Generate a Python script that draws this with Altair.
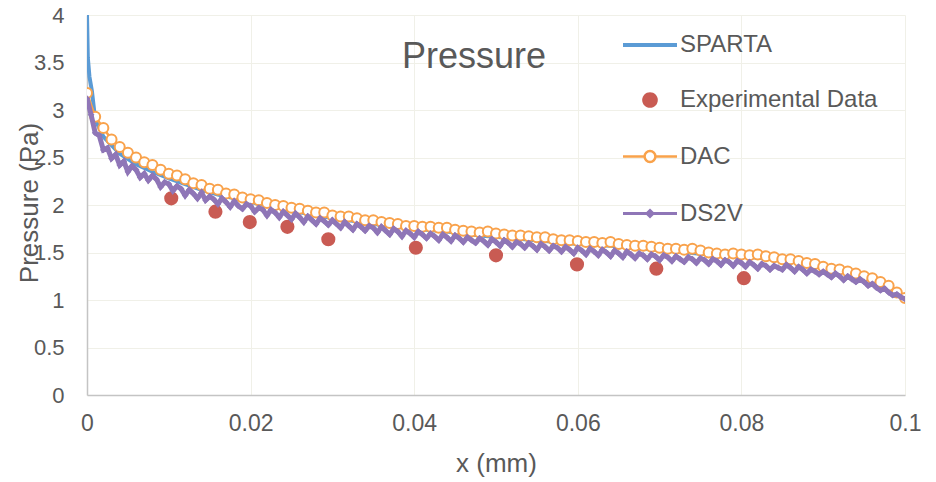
import altair as alt
import pandas as pd

# ---------------- data ----------------
sparta_x = [0, 0.0001, 0.0003, 0.0006, 0.001, 0.002, 0.004, 0.006, 0.008, 0.010,
            0.012, 0.014, 0.016, 0.018, 0.020, 0.024, 0.028, 0.032, 0.036, 0.040,
            0.044, 0.048, 0.052, 0.056, 0.060, 0.064, 0.068, 0.072, 0.076, 0.080,
            0.084, 0.088, 0.092, 0.096, 0.098, 0.100]
sparta_y = [4.0, 3.55, 3.35, 3.2, 2.9, 2.72, 2.54, 2.43, 2.35, 2.28,
            2.22, 2.16, 2.11, 2.07, 2.03, 1.96, 1.89, 1.84, 1.79, 1.75,
            1.72, 1.68, 1.65, 1.62, 1.59, 1.57, 1.54, 1.51, 1.48, 1.46,
            1.43, 1.38, 1.31, 1.21, 1.13, 1.03]

exp_x = [0.0103, 0.0157, 0.0199, 0.0245, 0.0295, 0.0402, 0.0500, 0.0599, 0.0696, 0.0803]
exp_y = [2.07, 1.93, 1.82, 1.77, 1.64, 1.55, 1.47, 1.375, 1.33, 1.23]

dac_x = [i / 1000 for i in range(101)]
dac_y = [3.18, 2.93, 2.81, 2.69, 2.61, 2.55, 2.50, 2.45, 2.42, 2.37,
         2.33, 2.31, 2.27, 2.23, 2.21, 2.17, 2.16, 2.12, 2.11, 2.08,
         2.06, 2.05, 2.02, 2.00, 1.99, 1.97, 1.96, 1.94, 1.92, 1.92,
         1.89, 1.88, 1.88, 1.86, 1.84, 1.84, 1.82, 1.81, 1.80, 1.78,
         1.78, 1.77, 1.77, 1.76, 1.76, 1.74, 1.73, 1.72, 1.71, 1.72,
         1.70, 1.69, 1.68, 1.68, 1.67, 1.66, 1.66, 1.64, 1.63, 1.63,
         1.62, 1.61, 1.61, 1.60, 1.61, 1.59, 1.58, 1.57, 1.57, 1.56,
         1.55, 1.54, 1.54, 1.53, 1.54, 1.52, 1.50, 1.49, 1.48, 1.49,
         1.48, 1.47, 1.48, 1.46, 1.45, 1.43, 1.43, 1.41, 1.39, 1.38,
         1.35, 1.33, 1.32, 1.30, 1.28, 1.25, 1.23, 1.19, 1.15, 1.08,
         1.02]

ds2v_x = [i / 2000 for i in range(201)]
ds2v_y = [3.12, 2.95, 2.76, 2.73, 2.58, 2.60, 2.49, 2.53, 2.42, 2.46,
          2.35, 2.41, 2.37, 2.29, 2.33, 2.26, 2.31, 2.27, 2.19, 2.24,
          2.22, 2.15, 2.20, 2.17, 2.10, 2.16, 2.12, 2.07, 2.13, 2.05,
          2.09, 2.06, 2.01, 2.07, 2.03, 1.98, 2.04, 1.99, 1.96, 2.01,
          1.99, 1.93, 1.97, 1.95, 1.89, 1.95, 1.92, 1.87, 1.93, 1.89,
          1.85, 1.91, 1.87, 1.82, 1.88, 1.84, 1.80, 1.86, 1.83, 1.79,
          1.84, 1.80, 1.76, 1.82, 1.78, 1.74, 1.80, 1.77, 1.73, 1.78,
          1.76, 1.71, 1.77, 1.73, 1.69, 1.75, 1.72, 1.67, 1.73, 1.70,
          1.66, 1.72, 1.69, 1.65, 1.70, 1.67, 1.63, 1.69, 1.66, 1.62,
          1.68, 1.65, 1.61, 1.66, 1.63, 1.60, 1.65, 1.62, 1.58, 1.64,
          1.61, 1.57, 1.63, 1.60, 1.56, 1.61, 1.59, 1.55, 1.60, 1.57,
          1.53, 1.59, 1.56, 1.52, 1.57, 1.55, 1.51, 1.56, 1.53, 1.49,
          1.55, 1.52, 1.48, 1.54, 1.51, 1.47, 1.53, 1.50, 1.46, 1.52,
          1.49, 1.45, 1.51, 1.48, 1.44, 1.49, 1.47, 1.43, 1.48, 1.46,
          1.42, 1.47, 1.45, 1.41, 1.46, 1.43, 1.40, 1.45, 1.43, 1.39,
          1.44, 1.42, 1.38, 1.43, 1.41, 1.37, 1.42, 1.40, 1.36, 1.41,
          1.39, 1.35, 1.40, 1.37, 1.33, 1.38, 1.36, 1.32, 1.36, 1.34,
          1.32, 1.37, 1.34, 1.30, 1.35, 1.32, 1.28, 1.32, 1.30, 1.27,
          1.30, 1.27, 1.24, 1.28, 1.25, 1.21, 1.25, 1.22, 1.19, 1.22,
          1.19, 1.15, 1.17, 1.13, 1.10, 1.12, 1.08, 1.05, 1.06, 1.03,
          1.01]

series_names = ["SPARTA", "Experimental Data", "DAC", "DS2V"]
C_SPARTA, C_EXP, C_DAC, C_DS2V = "#5b9bd5", "#c95b53", "#f9a24b", "#8f76b7"

x_ticks = [0, 0.02, 0.04, 0.06, 0.08, 0.1]
y_ticks = [0, 0.5, 1, 1.5, 2, 2.5, 3, 3.5, 4]

# ---------------- tables ----------------
def table(xs, ys, name):
    return pd.DataFrame({"x": xs, "y": ys, "series": name})

df = pd.concat([
    table(sparta_x, sparta_y, "SPARTA"),
    table(exp_x, exp_y, "Experimental Data"),
    table(dac_x, dac_y, "DAC"),
    table(ds2v_x, ds2v_y, "DS2V"),
], ignore_index=True)

FONT = "Liberation Sans"
TXT = "#595959"

# legend symbols (custom paths in the unit square)
legend_shapes = [
    "M-1,0H1",
    "M0.29,0A0.29,0.29 0 1,1 -0.29,0A0.29,0.29 0 1,1 0.29,0Z",
    "M-1,0H-0.2M0.2,0H1M0.2,0A0.2,0.2 0 1,1 -0.2,0A0.2,0.2 0 1,1 0.2,0Z",
    "M-1,0H1M0,-0.11L0.11,0L0,0.11L-0.11,0Z",
]
legend_fills = ["transparent", C_EXP, "#ffffff", C_DS2V]
legend_strokes = [C_SPARTA, "transparent", C_DAC, C_DS2V]
legend_widths = [4, 0, 2.5, 3]

legend = alt.Legend(
    title=None, orient="none", legendX=534, legendY=1, padding=0,
    symbolSize=2916, rowPadding=16, labelOffset=1, symbolOpacity=1,
    labelFont=FONT, labelFontSize=24, labelColor=TXT, labelLimit=400,
)

xenc = alt.X("x:Q", scale=alt.Scale(domain=[0, 0.1], nice=False),
             axis=alt.Axis(values=x_ticks, format="~g", title="x (mm)",
                           labelPadding=17, labelFlush=False, labelFontSize=23,
                           titleY=68, titleBaseline="middle"))
yenc = alt.Y("y:Q", scale=alt.Scale(domain=[0, 4], nice=False),
             axis=alt.Axis(values=y_ticks, format="~g", title="Pressure (Pa)",
                           labelPadding=23, labelFlush=False,
                           titleX=-58, titleY=187.5,
                           titleBaseline="middle", titleAlign="center"))

base = alt.Chart(df)

def sel(name):
    return base.transform_filter(alt.datum.series == name)

sparta = sel("SPARTA").mark_line(strokeWidth=4, clip=True, color=C_SPARTA).encode(x=xenc, y=yenc)
exp = sel("Experimental Data").mark_circle(size=200, opacity=1, clip=True, color=C_EXP).encode(x=xenc, y=yenc)
dac_line = sel("DAC").mark_line(strokeWidth=2.5, clip=True, color=C_DAC).encode(x=xenc, y=yenc)
dac_pts = sel("DAC").mark_point(shape="circle", size=100, filled=False, fill="#ffffff",
                                fillOpacity=1, stroke=C_DAC, strokeWidth=2, opacity=1,
                                clip=True).encode(x=xenc, y=yenc)
ds2v_line = sel("DS2V").mark_line(strokeWidth=5, clip=True, color=C_DS2V).encode(x=xenc, y=yenc)
ds2v_pts = sel("DS2V").mark_point(shape="diamond", size=45, filled=True, opacity=1,
                                  color=C_DS2V, clip=True).encode(x=xenc, y=yenc)

# legend-only layer (no rows drawn), symbols come from the scales
def lscale(rng):
    return alt.Scale(type="ordinal", domain=series_names, range=rng)

leg_layer = base.transform_filter("false").mark_point(opacity=1).encode(
    x=xenc, y=yenc,
    shape=alt.Shape("series:N", scale=lscale(legend_shapes), legend=legend),
    fill=alt.Fill("series:N", scale=lscale(legend_fills), legend=legend),
    stroke=alt.Stroke("series:N", scale=lscale(legend_strokes), legend=legend),
    strokeWidth=alt.StrokeWidth("series:N", scale=lscale(legend_widths), legend=legend),
)

chart = alt.layer(sparta, exp, dac_line, dac_pts, ds2v_line, ds2v_pts, leg_layer).properties(
    width=818, height=380,
    background="#ffffff",
    title=alt.TitleParams("Pressure", font=FONT, fontSize=36, fontWeight="normal",
                          color=TXT, frame="group", anchor="middle",
                          baseline="alphabetic", offset=0, dy=100, dx=-22),
    autosize=alt.AutoSizeParams(type="none"),
    padding={"left": 87, "top": 15, "right": 31, "bottom": 87},
).configure_view(stroke=None).configure_axis(
    labelFont=FONT, labelFontSize=22, labelColor=TXT,
    titleFont=FONT, titleFontSize=26, titleColor=TXT, titleFontWeight="normal",
    grid=True, gridColor="#f0f0e8", gridWidth=1,
    domainColor="#c4c4c4", domainWidth=1.5, ticks=False,
)

chart.save("out.html", embed_options={"renderer": "svg", "actions": False})
